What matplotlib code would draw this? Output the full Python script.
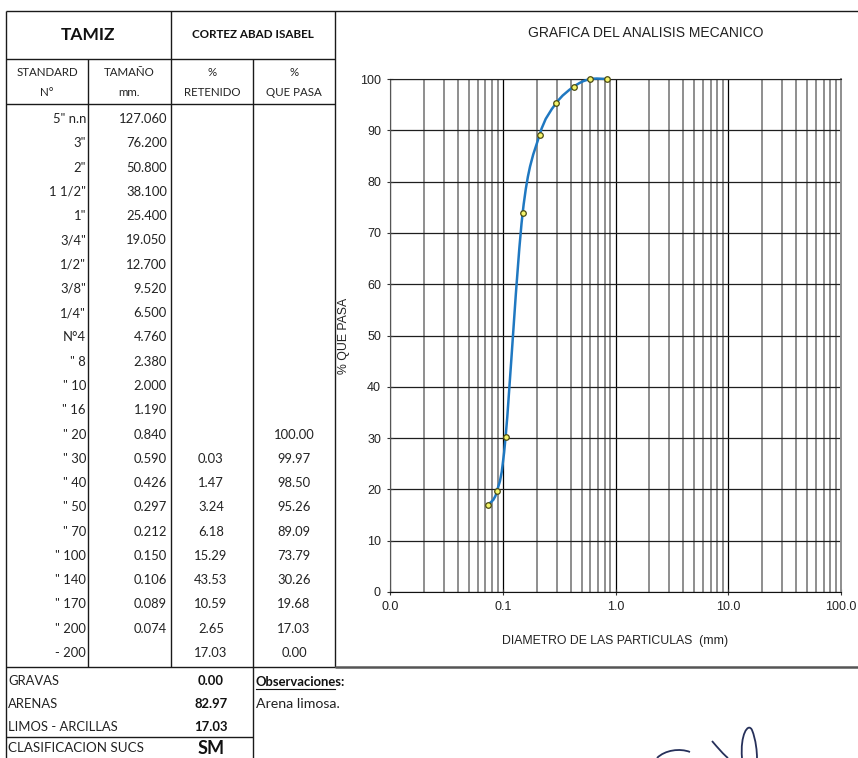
import numpy as np
import matplotlib
matplotlib.use('Agg')
import matplotlib.pyplot as plt
from matplotlib.path import Path
from matplotlib.patches import PathPatch
import matplotlib.ticker as mticker

# ---------------- data ----------------
standard = ['5" n.n', '3"', '2"', '1 1/2"', '1"', '3/4"', '1/2"', '3/8"', '1/4"', 'N°4',
            '" 8', '" 10', '" 16', '" 20', '" 30', '" 40', '" 50', '" 70', '" 100',
            '" 140', '" 170', '" 200', '- 200']
tamano = ['127.060', '76.200', '50.800', '38.100', '25.400', '19.050', '12.700', '9.520',
          '6.500', '4.760', '2.380', '2.000', '1.190', '0.840', '0.590', '0.426', '0.297',
          '0.212', '0.150', '0.106', '0.089', '0.074', '']
retenido = [''] * 14 + ['0.03', '1.47', '3.24', '6.18', '15.29', '43.53', '10.59', '2.65', '17.03']
pasa = [''] * 13 + ['100.00', '99.97', '98.50', '95.26', '89.09', '73.79', '30.26', '19.68',
                    '17.03', '0.00']

resumen_labels = ['GRAVAS', 'ARENAS', 'LIMOS - ARCILLAS']
resumen_values = ['0.00', '82.97', '17.03']
clasificacion = 'SM'
observacion = 'Arena limosa.'
muestra = 'CORTEZ ABAD ISABEL'

y_ticks = [0, 10, 20, 30, 40, 50, 60, 70, 80, 90, 100]
x_ticks = [0.01, 0.1, 1.0, 10.0, 100.0]

# ---------------- figure ----------------
W, H = 858, 758
fig = plt.figure(figsize=(W / 100, H / 100), dpi=100)
fig.patch.set_facecolor('white')

bg = fig.add_axes([0, 0, 1, 1])
bg.set_xlim(0, W)
bg.set_ylim(H, 0)
bg.axis('off')
bg.patch.set_alpha(0)

TF = 'Lato'
lc = '#1a1a1a'
lw = 1.0
FS = 9.4


def hl(y, x0, x1, **kw):
    bg.plot([x0, x1], [y, y], color=kw.get('color', lc), lw=kw.get('lw', lw), solid_capstyle='butt')


def vl(x, y0, y1, **kw):
    bg.plot([x, x], [y0, y1], color=kw.get('color', lc), lw=kw.get('lw', lw), solid_capstyle='butt')


# table frame
hl(11, 6, W)
hl(59, 6, 335)
hl(104, 6, 335)
vl(6, 11, H)
vl(88, 59, 667)
vl(171, 11, 667)
vl(253, 59, H)
vl(335, 11, 667)
hl(667, 6, 335)
hl(667, 335, W, color='#555555', lw=1.8)
hl(737, 6, 253)

# headers
bg.text(88, 35, 'TAMIZ', family=TF, fontsize=12.5, fontweight='bold', ha='center', va='center', color='#111')
bg.text(253, 35, muestra, family=TF, fontsize=8.4, fontweight='bold', ha='center', va='center', color='#111')
hdr = [(47, 'STANDARD', 'N°'), (129, 'TAMAÑO', 'mm.'), (212, '%', 'RETENIDO'), (294, '%', 'QUE PASA')]
for x, a, b in hdr:
    bg.text(x, 73, a, family=TF, fontsize=8.3, ha='center', va='center', color='#222')
    bg.text(x, 93, b, family=TF, fontsize=8.3, ha='center', va='center', color='#222')

# rows
y0, dy = 119, 24.27
for i in range(len(standard)):
    y = y0 + i * dy
    bg.text(86, y, standard[i], family=TF, fontsize=FS, ha='right', va='center', color='#222')
    if tamano[i]:
        bg.text(167, y, tamano[i], family=TF, fontsize=FS, ha='right', va='center', color='#222')
    if retenido[i]:
        bg.text(211, y, retenido[i], family=TF, fontsize=FS, ha='center', va='center', color='#222')
    if pasa[i]:
        bg.text(294, y, pasa[i], family=TF, fontsize=FS, ha='center', va='center', color='#222')

# summary
for j, (lab, val) in enumerate(zip(resumen_labels, resumen_values)):
    y = 681 + j * 22.8
    bg.text(8, y, lab, family=TF, fontsize=FS, ha='left', va='center', color='#222')
    bg.text(211, y, val, family=TF, fontsize=FS, fontweight='bold', ha='center', va='center', color='#111')
bg.text(8, 748, 'CLASIFICACION SUCS', family=TF, fontsize=9.6, ha='left', va='center', color='#222')
bg.text(211, 748, clasificacion, family=TF, fontsize=13, fontweight='bold', ha='center', va='center', color='#111')
bg.text(256, 682, 'Observaciones:', family=TF, fontsize=FS, fontweight='bold', ha='left', va='center', color='#111')
bg.plot([256, 335], [688.5, 688.5], color='#111', lw=0.8)
bg.text(256, 704, observacion, family=TF, fontsize=10.2, ha='left', va='center', color='#222')

# signature (decorative)
sig_color = '#26305a'
s1 = Path([(657, 758), (665, 750), (680, 748), (690, 752)], [Path.MOVETO, Path.CURVE4, Path.CURVE4, Path.CURVE4])
s2 = Path([(712, 741), (718, 748), (724, 755), (728, 758)], [Path.MOVETO, Path.CURVE4, Path.CURVE4, Path.CURVE4])
s3 = Path([(742, 758), (740, 735), (748, 722), (752, 730), (756, 740), (757, 752), (757, 758)],
          [Path.MOVETO, Path.CURVE4, Path.CURVE4, Path.CURVE4, Path.CURVE4, Path.CURVE4, Path.CURVE4])
for p in (s1, s2, s3):
    bg.add_patch(PathPatch(p, facecolor='none', edgecolor=sig_color, lw=1.3))

# ---------------- chart ----------------
AF = 'Liberation Sans'
L, R, T, B = 390, 841, 79, 592
ax = fig.add_axes([L / W, 1 - B / H, (R - L) / W, (B - T) / H])
ax.set_xscale('log')
ax.set_xlim(x_ticks[0], x_ticks[-1])
ax.set_ylim(y_ticks[0], y_ticks[-1])
ax.xaxis.set_major_locator(mticker.FixedLocator(x_ticks))
ax.xaxis.set_minor_locator(mticker.LogLocator(base=10, subs=np.arange(2, 10)))
ax.xaxis.set_minor_formatter(mticker.NullFormatter())
ax.xaxis.set_major_formatter(mticker.FuncFormatter(lambda v, p: f'{v:.1f}'))
ax.yaxis.set_major_locator(mticker.FixedLocator(y_ticks))
ax.xaxis.grid(True, which='minor', color='#8e8e8e', lw=1.4)
ax.xaxis.grid(True, which='major', color='#000000', lw=0.9)
ax.yaxis.grid(True, which='major', color='#1e1e1e', lw=0.9)
ax.set_axisbelow(True)
ax.tick_params(axis='both', which='major', direction='inout', length=5, width=0.8, color='#333',
               labelsize=9, labelcolor='#222', pad=4)
ax.tick_params(axis='x', which='minor', length=0)
for lab in ax.get_xticklabels() + ax.get_yticklabels():
    lab.set_family(AF)
ax.spines['left'].set_color('#555')
ax.spines['bottom'].set_color('#111')
ax.spines['top'].set_color('#222')
ax.spines['right'].set_color('#8e8e8e')
ax.spines['right'].set_linewidth(1.4)

ax.set_xlabel('DIAMETRO DE LAS PARTICULAS  (mm)', family=AF, fontsize=8.8, color='#222', labelpad=16)
ax.set_ylabel('% QUE PASA', family=AF, fontsize=8.8, color='#222', labelpad=7)
fig.text(646 / W, 1 - 33 / H, 'GRAFICA DEL ANALISIS MECANICO', family=AF, fontsize=10,
         ha='center', va='center', color='#222')

# data points from the table
xs, ys = [], []
for s, p in zip(tamano, pasa):
    if s and p:
        xs.append(float(s))
        ys.append(float(p))
order = np.argsort(xs)
xs = np.array(xs)[order]
ys = np.array(ys)[order]

# smoothed line (Excel-like Catmull-Rom bezier in log-x space)
P = np.column_stack([np.log10(xs), ys])
n = len(P)
verts = [P[0]]
codes = [Path.MOVETO]
for i in range(n - 1):
    p0 = P[i - 1] if i > 0 else P[i]
    p3 = P[i + 2] if i + 2 < n else P[i + 1]
    c1 = P[i] + (P[i + 1] - p0) / 6.0
    c2 = P[i + 1] - (p3 - P[i]) / 6.0
    verts += [c1, c2, P[i + 1]]
    codes += [Path.CURVE4] * 3
verts = np.array(verts)
verts[:, 0] = 10 ** verts[:, 0]
ax.add_patch(PathPatch(Path(verts, codes), facecolor='none', edgecolor='#1f78c1', lw=1.8,
                       clip_on=False, zorder=3))
ax.plot(xs, ys, 'o', ms=4, mfc='#f4f46a', mec='#4a4a10', mew=0.9, zorder=4, clip_on=False)

fig.savefig('out.png', dpi=100)
